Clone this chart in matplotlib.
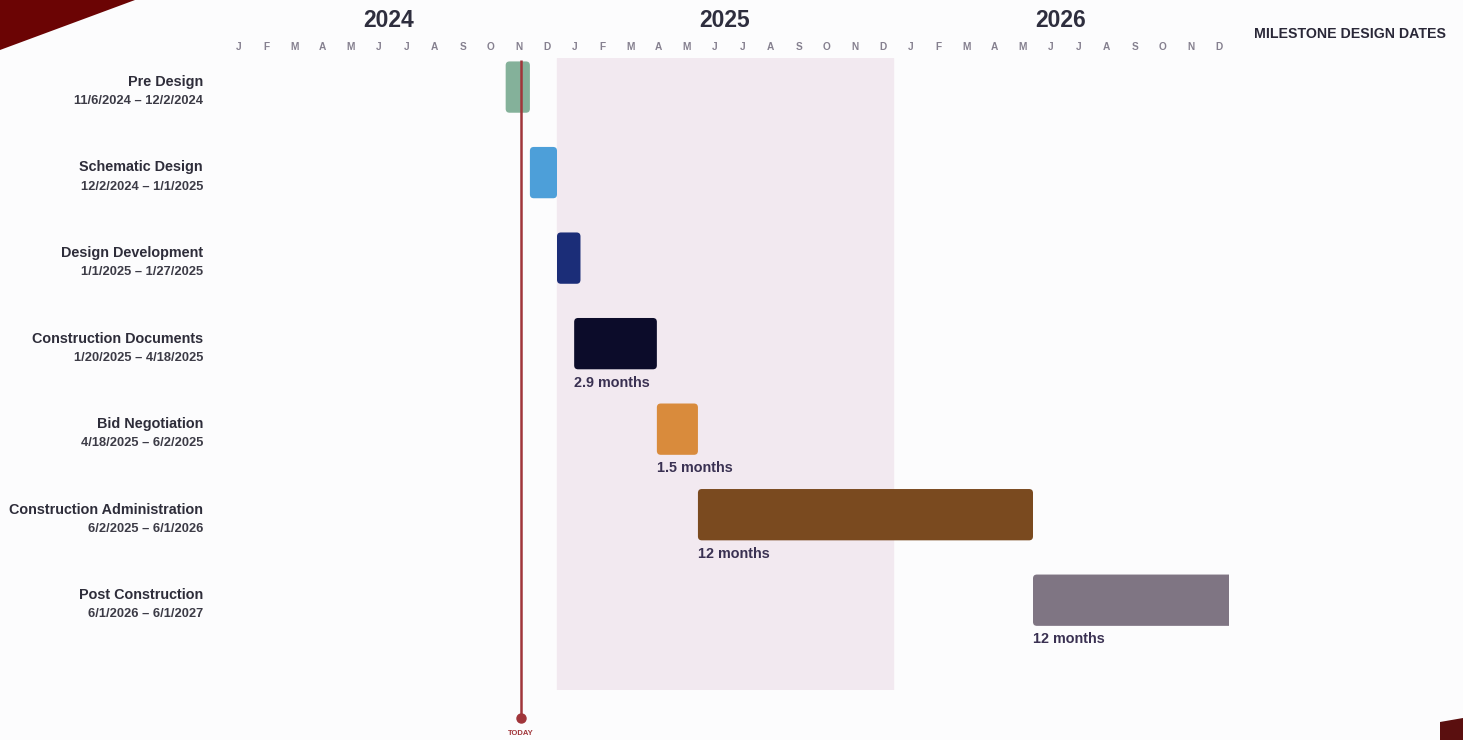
import calendar
import datetime as dt
import matplotlib
matplotlib.use("Agg")
import matplotlib.pyplot as plt
from matplotlib.patches import FancyBboxPatch, Polygon

# ---------------- data ----------------
phases = ["Pre Design", "Schematic Design", "Design Development",
          "Construction Documents", "Bid Negotiation",
          "Construction Administration", "Post Construction"]
starts = ["2024-11-06", "2024-12-02", "2025-01-01", "2025-01-20",
          "2025-04-18", "2025-06-02", "2026-06-01"]
ends = ["2024-12-02", "2025-01-01", "2025-01-27", "2025-04-18",
        "2025-06-02", "2026-06-01", "2027-06-01"]
date_labels = ["11/6/2024 – 12/2/2024", "12/2/2024 – 1/1/2025",
               "1/1/2025 – 1/27/2025", "1/20/2025 – 4/18/2025",
               "4/18/2025 – 6/2/2025", "6/2/2025 – 6/1/2026",
               "6/1/2026 – 6/1/2027"]
durations = [None, None, None, "2.9 months", "1.5 months",
             "12 months", "12 months"]
colors = ["#74a78c", "#4d9fd9", "#1b2d78", "#0c0c2a", "#d98b3c",
          "#7a4a1f", "#7f7583"]
years = ["2024", "2025", "2026"]
month_letters = ["J", "F", "M", "A", "M", "J", "J", "A", "S", "O", "N", "D"]
today = "2024-11-22"
highlight = ("2025-01-01", "2026-01-01")
title = "MILESTONE DESIGN DATES"


def to_m(s):
    d = dt.date.fromisoformat(s)
    ndays = calendar.monthrange(d.year, d.month)[1]
    return (d.year - 2024) * 12 + (d.month - 1) + (d.day - 1) / ndays


W, H = 1463, 740
fig = plt.figure(figsize=(W / 100, H / 100), dpi=100)
fig.patch.set_facecolor("#fcfcfd")
plt.rcParams["font.family"] = ["Liberation Sans", "DejaVu Sans"]

left, right = 221 / W, 1229 / W
top, bottom = 1 - 58 / H, 1 - 690 / H
ax = fig.add_axes([left, bottom, right - left, top - bottom])
ax.set_facecolor("none")
nmonths = len(years) * 12
ax.set_xlim(0, nmonths)
ylo, yhi = -0.34, 7.05
ax.set_ylim(yhi, ylo)
ax.axis("off")

# highlight region (year 2025)
ax.axvspan(to_m(highlight[0]), to_m(highlight[1]), color="#f2e9f0", zorder=0)

bar_h = 0.6
txt = "#2e2d3a"
for i, (p, s, e, dl, du, c) in enumerate(zip(phases, starts, ends,
                                              date_labels, durations, colors)):
    x0, x1 = to_m(s), to_m(e)
    patch = FancyBboxPatch((x0, i - bar_h / 2), x1 - x0, bar_h,
                           boxstyle="round,pad=0,rounding_size=0.14",
                           mutation_aspect=0.33, facecolor=c,
                           edgecolor="none", zorder=2,
                           alpha=0.88 if i == 0 else 1.0)
    ax.add_patch(patch)
    ax.text(-0.64, i - 0.06, p, ha="right", va="center", fontsize=10.4,
            fontweight="bold", color=txt, clip_on=False)
    ax.text(-0.64, i + 0.165, dl, ha="right", va="center", fontsize=9.3,
            fontweight="bold", color="#3c3b46", clip_on=False)
    if du:
        ax.text(x0, i + bar_h / 2 + 0.155, du, ha="left", va="center",
                fontsize=10.4, fontweight="bold", color="#3a3152")

# today line
tx = to_m(today)
ax.plot([tx, tx], [-0.32, 7.38], color="#a0353a", lw=1.8, zorder=3,
        clip_on=False, solid_capstyle="butt")
ax.plot([tx], [7.38], "o", color="#a0353a", ms=6.5, zorder=3, clip_on=False)
ax.text(tx, 7.56, "TODAY", ha="center", va="center", fontsize=5.5,
        fontweight="bold", color="#a0353a", clip_on=False)

# header: years and months
for k, y in enumerate(years):
    ax.text(k * 12 + 6, -0.78, y, ha="center", va="center", fontsize=16.5,
            fontweight="bold", color="#2e2e3e", clip_on=False)
    for m, L in enumerate(month_letters):
        ax.text(k * 12 + m + 0.64, -0.47, L, ha="center", va="center",
                fontsize=7.3, fontweight="bold", color="#85808f",
                clip_on=False)
ax.text(1446 / W, 1 - 34 / H, title, transform=fig.transFigure,
        ha="right", va="center", fontsize=10.2, fontweight="bold",
        color="#2a2838")

# decorative corners
fig.patches.append(Polygon([(0, 1), (135 / W, 1), (0, 1 - 50 / H)],
                           closed=True, transform=fig.transFigure,
                           facecolor="#6b0404", edgecolor="none"))
fig.patches.append(Polygon([(1440 / W, 1 - 722 / H), (1, 1 - 718 / H),
                            (1, 0), (1440 / W, 0)],
                           closed=True, transform=fig.transFigure,
                           facecolor="#5a0f0f", edgecolor="none"))

fig.savefig("out.png", dpi=100, facecolor=fig.get_facecolor())
